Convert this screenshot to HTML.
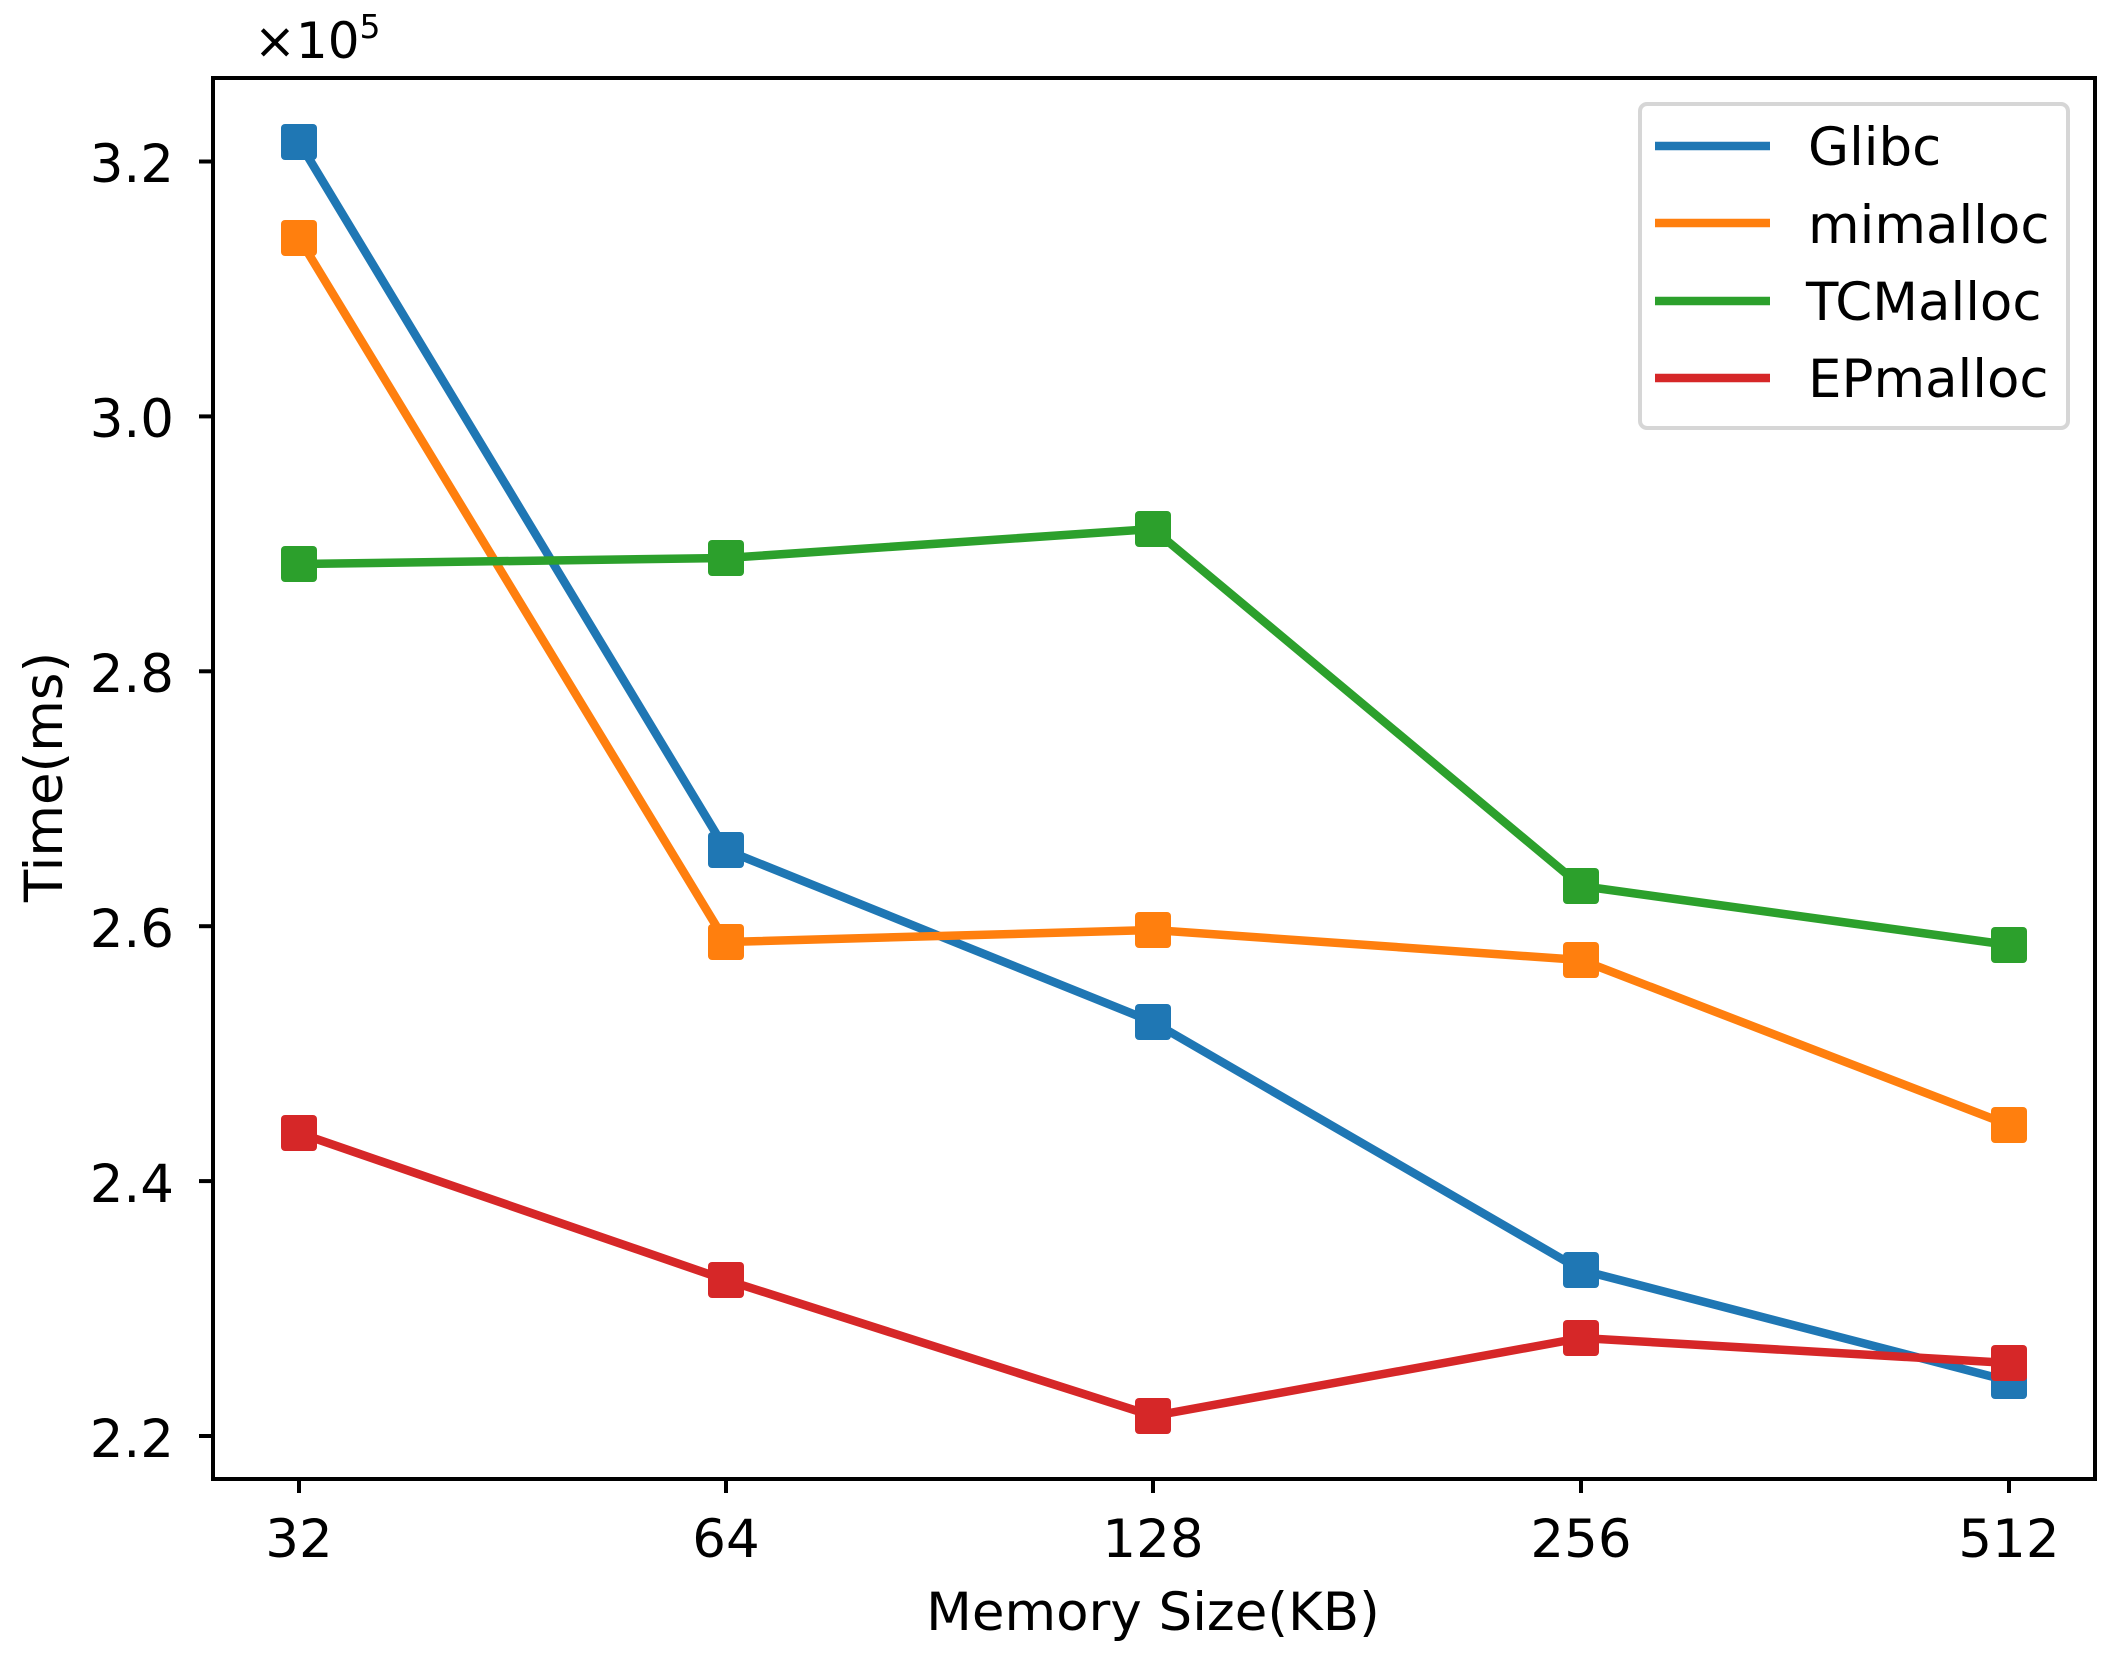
<!DOCTYPE html>
<html><head><meta charset="utf-8"><style>html,body{margin:0;padding:0;background:#fff}svg{display:block}text{font-family:"DejaVu Sans","Liberation Sans",sans-serif;fill:#000}</style></head>
<body>
<svg width="2120" height="1659" viewBox="0 0 2120 1659" xmlns="http://www.w3.org/2000/svg">
<rect width="2120" height="1659" fill="#fff"/>
<g stroke="#000" stroke-width="4">
<line x1="213" y1="161.5" x2="199" y2="161.5"/>
<line x1="213" y1="416.4" x2="199" y2="416.4"/>
<line x1="213" y1="671.3" x2="199" y2="671.3"/>
<line x1="213" y1="926.2" x2="199" y2="926.2"/>
<line x1="213" y1="1181.1" x2="199" y2="1181.1"/>
<line x1="213" y1="1436" x2="199" y2="1436"/>
<line x1="299" y1="1479" x2="299" y2="1493"/>
<line x1="726" y1="1479" x2="726" y2="1493"/>
<line x1="1153" y1="1479" x2="1153" y2="1493"/>
<line x1="1581" y1="1479" x2="1581" y2="1493"/>
<line x1="2009" y1="1479" x2="2009" y2="1493"/>
</g>
<g font-size="53" text-anchor="end">
<text x="174" y="182">3.2</text>
<text x="174" y="437">3.0</text>
<text x="174" y="692">2.8</text>
<text x="174" y="947">2.6</text>
<text x="174" y="1202">2.4</text>
<text x="174" y="1457">2.2</text>
</g>
<g font-size="53" text-anchor="middle">
<text x="299" y="1557">32</text>
<text x="726" y="1557">64</text>
<text x="1153" y="1557">128</text>
<text x="1581" y="1557">256</text>
<text x="2009" y="1557">512</text>
<text x="1153" y="1630">Memory Size(KB)</text>
<text transform="translate(62,777) rotate(-90)">Time(ms)</text>
</g>
<text x="254" y="58" font-size="50">×10<tspan font-size="33" dy="-20">5</tspan></text>
<g fill="none" stroke-width="8.5" stroke-linejoin="round">
<polyline stroke="#1f77b4" points="299,142 726,850 1153,1022 1581,1270 2009,1381"/>
<polyline stroke="#ff7f0e" points="299,238 726,942 1153,930 1581,960 2009,1125"/>
<polyline stroke="#2ca02c" points="299,564 726,558 1153,529 1581,886 2009,945"/>
<polyline stroke="#d62728" points="299,1133 726,1280 1153,1416 1581,1338 2009,1363"/>
</g>
<g>
<g fill="#1f77b4"><rect x="281" y="124" width="36" height="36" rx="4"/><rect x="708" y="832" width="36" height="36" rx="4"/><rect x="1135" y="1004" width="36" height="36" rx="4"/><rect x="1563" y="1252" width="36" height="36" rx="4"/><rect x="1991" y="1363" width="36" height="36" rx="4"/></g>
<g fill="#ff7f0e"><rect x="281" y="220" width="36" height="36" rx="4"/><rect x="708" y="924" width="36" height="36" rx="4"/><rect x="1135" y="912" width="36" height="36" rx="4"/><rect x="1563" y="942" width="36" height="36" rx="4"/><rect x="1991" y="1107" width="36" height="36" rx="4"/></g>
<g fill="#2ca02c"><rect x="281" y="546" width="36" height="36" rx="4"/><rect x="708" y="540" width="36" height="36" rx="4"/><rect x="1135" y="511" width="36" height="36" rx="4"/><rect x="1563" y="868" width="36" height="36" rx="4"/><rect x="1991" y="927" width="36" height="36" rx="4"/></g>
<g fill="#d62728"><rect x="281" y="1115" width="36" height="36" rx="4"/><rect x="708" y="1262" width="36" height="36" rx="4"/><rect x="1135" y="1398" width="36" height="36" rx="4"/><rect x="1563" y="1320" width="36" height="36" rx="4"/><rect x="1991" y="1345" width="36" height="36" rx="4"/></g>
</g>
<rect x="213" y="78" width="1882" height="1401" fill="none" stroke="#000" stroke-width="4"/>
<rect x="1640" y="104" width="428" height="324" rx="7" fill="#fff" fill-opacity="0.8" stroke="#d6d6d6" stroke-width="4"/>
<g stroke-width="8.5">
<line x1="1655" y1="146" x2="1770" y2="146" stroke="#1f77b4"/>
<line x1="1655" y1="223" x2="1770" y2="223" stroke="#ff7f0e"/>
<line x1="1655" y1="301" x2="1770" y2="301" stroke="#2ca02c"/>
<line x1="1655" y1="378" x2="1770" y2="378" stroke="#d62728"/>
</g>
<g font-size="53">
<text x="1808" y="165">Glibc</text>
<text x="1808" y="243">mimalloc</text>
<text x="1806" y="320">TCMalloc</text>
<text x="1808" y="397">EPmalloc</text>
</g>
</svg>
</body></html>
